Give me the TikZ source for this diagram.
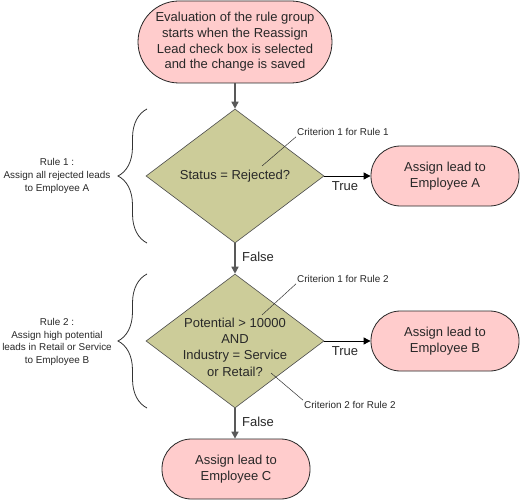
\documentclass[tikz,border=0pt]{standalone}
\usepackage{fontspec}
\setmainfont{Liberation Sans}
\usetikzlibrary{shapes.geometric,arrows.meta,decorations.pathreplacing}
\definecolor{pinkfill}{RGB}{255,204,204}
\definecolor{olivefill}{RGB}{204,204,153}
\definecolor{txt}{RGB}{40,40,40}
\begin{document}
\begin{tikzpicture}[x=1pt,y=-1pt,
  term/.style={draw=black!85, line width=0.8pt, fill=pinkfill, rounded corners=29.5pt,
    minimum width=148pt, minimum height=60pt, align=center,
    font=\fontsize{13}{15.7}\selectfont, text=txt, inner sep=0pt},
  dec/.style={draw=black!70, line width=0.6pt, fill=olivefill, diamond,
    minimum width=178pt, minimum height=134pt, inner sep=0pt},
  dtext/.style={align=center, font=\fontsize{13}{16.3}\selectfont, text=txt, inner sep=0pt},
  small/.style={font=\fontsize{9.9}{12.6}\selectfont, text=txt, inner sep=1pt},
  lbl/.style={font=\fontsize{13}{15.7}\selectfont, text=txt, inner sep=0pt},
  vert/.style={draw=black!65, line width=1.6pt, -{Triangle[length=7pt,width=7pt]}},
  hor/.style={draw=black, line width=0.9pt, -{Triangle[length=7pt,width=7pt]}},
  leader/.style={draw=black!80, line width=0.5pt},
  bracestyle/.style={draw=black!80, line width=0.8pt,
    decorate, decoration={brace, amplitude=29pt}}
]
\fill[white] (0,0) rectangle (522,500);
\useasboundingbox (0,0) rectangle (522,500);

\node[term, rounded corners=41pt, minimum width=194pt, minimum height=82pt] (start) at (235,42)
  {Evaluation of the rule group\\starts when the Reassign\\Lead check box is selected\\and the change is saved};

\node[dec] (d1) at (235,176) {};
\node[dtext] (d1t) at (235,176) {Status = Rejected?};
\node[term] (a) at (445,176) {Assign lead to\\Employee A};

\node[dec] (d2) at (235,341) {};
\node[dtext] (d2t) at (235,347) {Potential > 10000\\AND\\Industry = Service\\or Retail?};
\node[term] (b) at (445,341) {Assign lead to\\Employee B};

\node[term] (c) at (236,469) {Assign lead to\\Employee C};

% connectors
\draw[vert] (start) -- (d1);
\draw[vert] (d1) -- (d2);
\draw[vert] (d2.south) -- (d2.south |- c.north);
\draw[hor] (d1.east) -- (a.west);
\draw[hor] (d2.east) -- (b.west);

% edge labels
\node[lbl] (t1) at (345,186) {True};
\node[lbl] (t2) at (345,351) {True};
\node[lbl] (f1) at (258,257) {False};
\node[lbl] (f2) at (258,422) {False};

% criterion callouts
\node[small, anchor=west] (c11) at (296,132) {Criterion 1 for Rule 1};
\coordinate (c11e) at (262,166);
\draw[leader] (c11e) -- (c11.south west);

\node[small, anchor=west] (c21) at (296,279) {Criterion 1 for Rule 2};
\coordinate (c21e) at (262,315);
\draw[leader] (c21e) -- (c21.south west);

\node[small, anchor=west] (c22) at (303,405) {Criterion 2 for Rule 2};
\coordinate (c22e) at (271,373);
\draw[leader] (c22e) -- (c22.north west);

% braces
\coordinate (b1a) at (147,243);
\coordinate (b1b) at (147,109);
\draw[bracestyle] (b1a) -- (b1b);
\coordinate (b2a) at (147,408);
\coordinate (b2b) at (147,274);
\draw[bracestyle] (b2a) -- (b2b);

% rule texts
\node[small, align=center] (r1) at (57,176) {Rule 1 :\\Assign all rejected leads\\to Employee A};
\node[small, align=center] (r2) at (57,342) {Rule 2 :\\Assign high potential\\leads in Retail or Service\\to Employee B};
\end{tikzpicture}
\end{document}
